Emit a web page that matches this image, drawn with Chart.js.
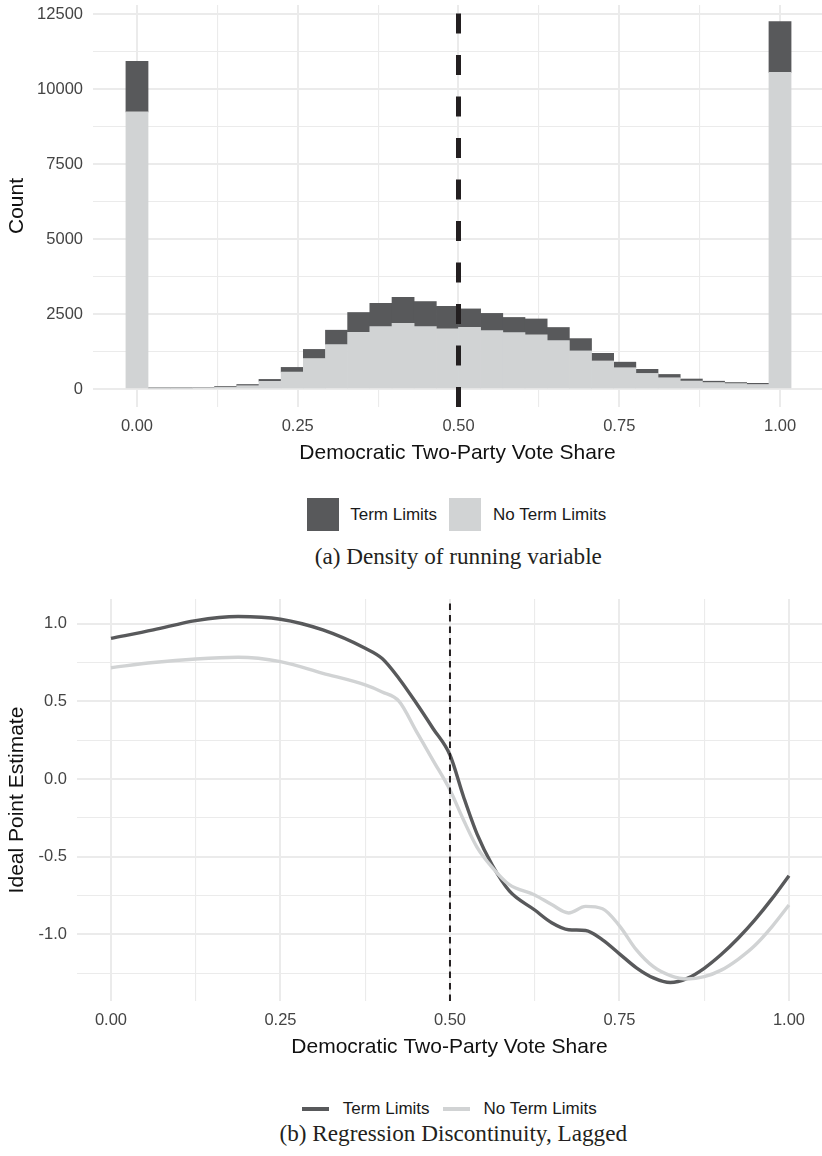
<!DOCTYPE html>
<html>
<head>
<meta charset="utf-8">
<script src="https://cdn.jsdelivr.net/npm/chart.js@4.4.1/dist/chart.umd.min.js"></script>
<style>
  html, body { margin: 0; padding: 0; background: #ffffff; width: 822px; height: 1156px; overflow: hidden; }
  canvas { position: absolute; left: 0; }
  #histA { top: 0; }
  #lineB { top: 580px; }
  .legend { position: absolute; display: flex; align-items: center; font-family: "Liberation Sans", Arial, sans-serif; font-size: 17px; color: #1a1a1a; white-space: nowrap; }
  .box { width: 32px; height: 33px; }
  .key { width: 27px; height: 3.5px; }
  .caption { position: absolute; font-family: "Liberation Serif", "Times New Roman", serif; font-size: 23.2px; line-height: 26px; color: #231f20; white-space: nowrap; transform: translateX(-50%); }
</style>
</head>
<body>
<canvas id="histA" width="822" height="470"></canvas>
<div class="legend" style="left:306.7px; top:498px; height:33px;">
  <div class="box" style="background:#58595b; margin-right:11.5px;"></div>
  <span style="margin-right:11.5px;">Term Limits</span>
  <div class="box" style="background:#d1d3d4; margin-right:12.5px;"></div>
  <span>No Term Limits</span>
</div>
<div class="caption" style="left:458.3px; top:542.8px;">(a) Density of running variable</div>

<canvas id="lineB" width="822" height="480"></canvas>
<div class="legend" style="left:301.7px; top:1099px; height:20px;">
  <div class="key" style="background:#58595b; margin-right:14px;"></div>
  <span style="margin-right:13px;">Term Limits</span>
  <div class="key" style="background:#d1d3d4; margin-right:14px;"></div>
  <span>No Term Limits</span>
</div>
<div class="caption" style="left:453.3px; top:1119.6px;">(b) Regression Discontinuity, Lagged</div>

<script>
// ---------- Panel (a): histogram data ----------
const binCenters = [0, 0.0345, 0.0690, 0.1034, 0.1379, 0.1724, 0.2069, 0.2414, 0.2759, 0.3103,
  0.3448, 0.3793, 0.4138, 0.4483, 0.4828, 0.5172, 0.5517, 0.5862, 0.6207, 0.6552,
  0.6897, 0.7241, 0.7586, 0.7931, 0.8276, 0.8621, 0.8966, 0.9310, 0.9655, 1.0000];
const noTermLimitsCounts = [9240, 40, 40, 45, 60, 110, 255, 565, 1015, 1480,
  1885, 2080, 2190, 2080, 2005, 2055, 1945, 1880, 1805, 1610,
  1270, 935, 710, 520, 375, 265, 215, 180, 150, 10555];
const termLimitsCounts = [1680, 5, 5, 5, 25, 40, 65, 155, 305, 480,
  665, 775, 865, 835, 750, 615, 575, 505, 530, 440,
  410, 255, 185, 135, 110, 68, 45, 35, 40, 1690];
const countTicks = [0, 1250, 2500, 3750, 5000, 6250, 7500, 8750, 10000, 11250, 12500];
const countMajorTicks = [0, 2500, 5000, 7500, 10000, 12500];
const shareTicks = [0, 0.125, 0.25, 0.375, 0.5, 0.625, 0.75, 0.875, 1];
const shareMajorTicks = [0, 0.25, 0.5, 0.75, 1];
const cutoff = 0.5;

// ---------- Panel (b): smoothed ideal point estimates ----------
const voteShare = [0, 0.0625, 0.125, 0.1875, 0.25, 0.3125, 0.375, 0.4, 0.425, 0.45, 0.475, 0.5,
  0.52, 0.54, 0.5625, 0.5875, 0.625, 0.65, 0.675, 0.7, 0.725, 0.75, 0.775, 0.8, 0.825,
  0.85, 0.875, 0.9, 0.925, 0.95, 0.975, 1];
const idealTermLimits = [0.905, 0.959, 1.019, 1.045, 1.028, 0.959, 0.841, 0.775, 0.645, 0.49, 0.325, 0.154,
  -0.114, -0.355, -0.555, -0.72, -0.843, -0.925, -0.97, -0.975, -1.035, -1.125, -1.215, -1.28, -1.31,
  -1.283, -1.218, -1.13, -1.025, -0.905, -0.77, -0.622];
const idealNoTermLimits = [0.716, 0.749, 0.772, 0.783, 0.755, 0.68, 0.605, 0.56, 0.50, 0.31, 0.12, -0.071,
  -0.264, -0.44, -0.57, -0.68, -0.746, -0.808, -0.862, -0.82, -0.835, -0.945, -1.10, -1.208, -1.265,
  -1.287, -1.272, -1.23, -1.16, -1.07, -0.95, -0.811];
const idealTicks = [-1.25, -1, -0.75, -0.5, -0.25, 0, 0.25, 0.5, 0.75, 1];
const idealMajorTicks = [-1, -0.5, 0, 0.5, 1];

// ---------- styling ----------
const DARK = '#58595b';
const LIGHT = '#d1d3d4';
const GRID = '#ebebeb';
const SANS = '"Liberation Sans", Arial, sans-serif';
Chart.defaults.font.family = SANS;
Chart.defaults.animation = false;

function setTicks(values, majors) {
  return function (scale) {
    scale.ticks = values.map(v => ({ value: v, minor: majors.indexOf(v) === -1 }));
  };
}
function gridOpts() {
  return {
    color: GRID,
    lineWidth: ctx => (ctx.tick && ctx.tick.minor) ? 1.1 : 2,
    drawTicks: false,
    offset: false
  };
}
function tickOpts(fmt) {
  return {
    color: '#444444',
    font: { size: 16.5, family: SANS },
    padding: 10,
    maxRotation: 0,
    minRotation: 0,
    autoSkip: false,
    callback: function (value, index, ticks) {
      return ticks[index].minor ? '' : fmt(value);
    }
  };
}
function yFit(width) {
  return function (s) { s.width = width; s.paddingTop = 0; s.paddingBottom = 0; };
}
function xFit(height) {
  return function (s) { s.height = height; s.paddingLeft = 0; s.paddingRight = 0; };
}
const titleFont = { size: 21, family: SANS };

// ---------- Chart (a) ----------
const yMinA = -600, yMaxA = 12800;
new Chart(document.getElementById('histA'), {
  type: 'bar',
  data: {
    labels: binCenters,
    datasets: [
      {
        type: 'line', label: 'cutoff',
        data: [{ x: cutoff, y: yMinA }, { x: cutoff, y: yMaxA }],
        borderColor: '#231f20', borderWidth: 5, borderDash: [20, 21.5],
        pointRadius: 0, tension: 0, order: 0, stack: 'vline', clip: 0
      },
      {
        label: 'No Term Limits', data: noTermLimitsCounts, backgroundColor: LIGHT,
        borderWidth: 0, barPercentage: 1, categoryPercentage: 1, stack: 'hist', order: 1
      },
      {
        label: 'Term Limits', data: termLimitsCounts, backgroundColor: DARK,
        borderWidth: 0, barPercentage: 1, categoryPercentage: 1, stack: 'hist', order: 2
      }
    ]
  },
  options: {
    responsive: false,
    animation: false,
    events: [],
    layout: { padding: { top: 5, bottom: 4.4, left: 0, right: 0 } },
    plugins: { legend: { display: false }, tooltip: { enabled: false } },
    scales: {
      x: {
        type: 'linear', min: -0.0684, max: 1.0653, bounds: 'data', offset: false,
        afterBuildTicks: setTicks(shareTicks, shareMajorTicks),
        afterFit: xFit(58.6),
        grid: gridOpts(), border: { display: false },
        ticks: tickOpts(v => v.toFixed(2)),
        title: { display: true, text: 'Democratic Two-Party Vote Share', color: '#111111', font: titleFont, padding: { top: 0, bottom: 0 } }
      },
      y: {
        type: 'linear', min: yMinA, max: yMaxA, bounds: 'data', stacked: true,
        afterBuildTicks: setTicks(countTicks, countMajorTicks),
        afterFit: yFit(93),
        grid: gridOpts(), border: { display: false },
        ticks: tickOpts(v => String(v)),
        title: { display: true, text: 'Count', color: '#111111', font: titleFont, padding: { top: 5, bottom: 0 } }
      }
    }
  }
});

// ---------- Chart (b) ----------
const yMinB = -1.4286, yMaxB = 1.158;
new Chart(document.getElementById('lineB'), {
  type: 'line',
  data: {
    labels: voteShare,
    datasets: [
      {
        label: 'cutoff',
        data: [{ x: cutoff, y: yMinB }, { x: cutoff, y: yMaxB }],
        borderColor: '#231f20', borderWidth: 2, borderDash: [6.5, 5],
        pointRadius: 0, tension: 0, order: 0, clip: 0
      },
      {
        label: 'No Term Limits', data: idealNoTermLimits, borderColor: LIGHT, borderWidth: 3.4,
        pointRadius: 0, cubicInterpolationMode: 'monotone', order: 1, fill: false
      },
      {
        label: 'Term Limits', data: idealTermLimits, borderColor: DARK, borderWidth: 3.4,
        pointRadius: 0, cubicInterpolationMode: 'monotone', order: 2, fill: false
      }
    ]
  },
  options: {
    responsive: false,
    animation: false,
    events: [],
    layout: { padding: { top: 19, bottom: 0.4, left: 0, right: 0 } },
    plugins: { legend: { display: false }, tooltip: { enabled: false } },
    scales: {
      x: {
        type: 'linear', min: -0.0501, max: 1.0487, bounds: 'data', offset: false,
        afterBuildTicks: setTicks(shareTicks, shareMajorTicks),
        afterFit: xFit(58.6),
        grid: gridOpts(), border: { display: false },
        ticks: tickOpts(v => v.toFixed(2)),
        title: { display: true, text: 'Democratic Two-Party Vote Share', color: '#111111', font: titleFont, padding: { top: 0, bottom: 0 } }
      },
      y: {
        type: 'linear', min: yMinB, max: yMaxB, bounds: 'data',
        afterBuildTicks: setTicks(idealTicks, idealMajorTicks),
        afterFit: yFit(77),
        grid: gridOpts(), border: { display: false },
        ticks: tickOpts(v => v.toFixed(1)),
        title: { display: true, text: 'Ideal Point Estimate', color: '#111111', font: titleFont, padding: { top: 5, bottom: 0 } }
      }
    }
  }
});
</script>
</body>
</html>
